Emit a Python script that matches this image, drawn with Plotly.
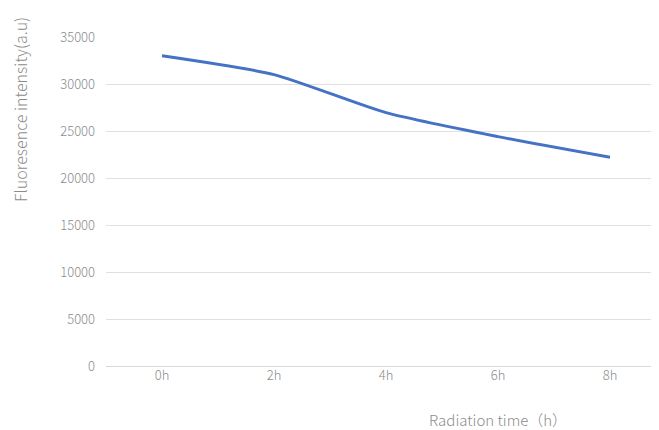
import plotly.graph_objects as go

categories = ["0h", "2h", "4h", "6h", "8h"]
values = [33000, 31000, 26950, 24400, 22200]
y_ticks = [0, 5000, 10000, 15000, 20000, 25000, 30000, 35000]

font_family = "Noto Sans CJK SC, Noto Sans, sans-serif"
grey = "#8c8c8c"

# the page body adds an 8px offset; layout is planned in screen pixels
OFF = 8
W, H = 659, 430
L, T, B_SCREEN, R_SCREEN = 106, 37, 366, 659
ml, mt = L - OFF, T - OFF
mb = H - (B_SCREEN - OFF)
mr = W - (R_SCREEN - OFF)
pw = W - ml - mr
ph = H - mt - mb

def to_paper(sx, sy):
    fx, fy = sx - OFF, sy - OFF
    return (fx - ml) / pw, (H - mb - fy) / ph

fig = go.Figure()
fig.add_trace(go.Scatter(
    x=list(range(len(categories))), y=values, mode="lines",
    line=dict(color="#4472C4", width=3, shape="spline", smoothing=0.6),
    showlegend=False, hoverinfo="x+y"))

ax, ay = to_paper(498, 419)
yx, yy = to_paper(20, 110)

fig.update_layout(
    width=W, height=H,
    margin=dict(l=ml, r=mr, t=mt, b=mb),
    plot_bgcolor="white", paper_bgcolor="white",
    font=dict(family=font_family, color=grey, size=13, weight=300),
    xaxis=dict(range=[-0.5, 4.4375], tickmode="array",
               tickvals=list(range(len(categories))), ticktext=categories,
               showgrid=False, zeroline=False, showline=False,
               ticks="", tickfont=dict(size=13, color=grey, weight=300)),
    yaxis=dict(range=[0, 35000], tickmode="array", tickvals=y_ticks,
               ticktext=[str(v) for v in y_ticks],
               showgrid=True, gridcolor="#e0e0e0", gridwidth=1,
               zeroline=True, zerolinecolor="#d9d9d9", zerolinewidth=1,
               showline=False, ticks="", ticklabelstandoff=10,
               tickfont=dict(size=13, color=grey, weight=300)),
    annotations=[
        dict(text="Radiation time（h）", x=ax, y=ay, xref="paper", yref="paper",
             xanchor="center", yanchor="middle",
             showarrow=False, font=dict(size=15, color=grey, weight=300)),
        dict(text="Fluoresence intensity(a.u)", x=yx, y=yy, xref="paper", yref="paper",
             xanchor="center", yanchor="middle", textangle=-90,
             showarrow=False, font=dict(size=16, color=grey, weight=300)),
    ],
)
fig.write_html("out.html")
